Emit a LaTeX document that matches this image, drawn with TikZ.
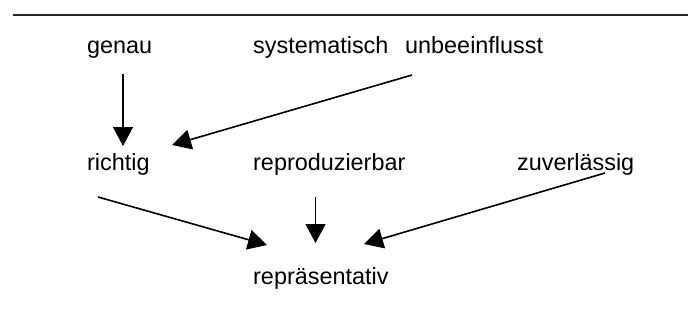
\documentclass[tikz,border=0pt]{standalone}
\usepackage{fontspec}
\setmainfont{Liberation Sans}
\usetikzlibrary{arrows.meta}
\begin{document}
\begin{tikzpicture}[x=1pt,y=-1pt,
  word/.style={anchor=base west,inner sep=0pt,font=\fontsize{23.4}{28}\selectfont},
  arr/.style={line width=1.6pt,-{Triangle[length=19pt,width=20pt]}}]
\useasboundingbox (0,0) rectangle (688,324);
\draw[line width=1.3pt,black!85] (13,15) -- (688,15);
\node[word] (genau) at (87,53) {genau};
\node[word] (syst) at (253,53) {systematisch};
\node[word] (unbe) at (405,53) {unbeeinflusst};
\node[word] (richtig) at (87,170) {richtig};
\node[word] (repro) at (253,170) {reproduzierbar};
\node[word] (zuver) at (517,170) {zuverlässig};
\node[word] (repr) at (253,284) {repräsentativ};
\coordinate (a1) at (123,74);  \coordinate (b1) at (123,146);
\coordinate (a2) at (412,75);  \coordinate (b2) at (172,145);
\coordinate (a3) at (98,197);  \coordinate (b3) at (267,245);
\coordinate (a4) at (315.5,197); \coordinate (b4) at (315.5,243);
\coordinate (a5) at (605,173); \coordinate (b5) at (364,244);
\draw[arr] (a1) -- (b1);
\draw[arr] (a2) -- (b2);
\draw[arr] (a3) -- (b3);
\draw[arr] (a4) -- (b4);
\draw[arr] (a5) -- (b5);
\end{tikzpicture}
\end{document}
